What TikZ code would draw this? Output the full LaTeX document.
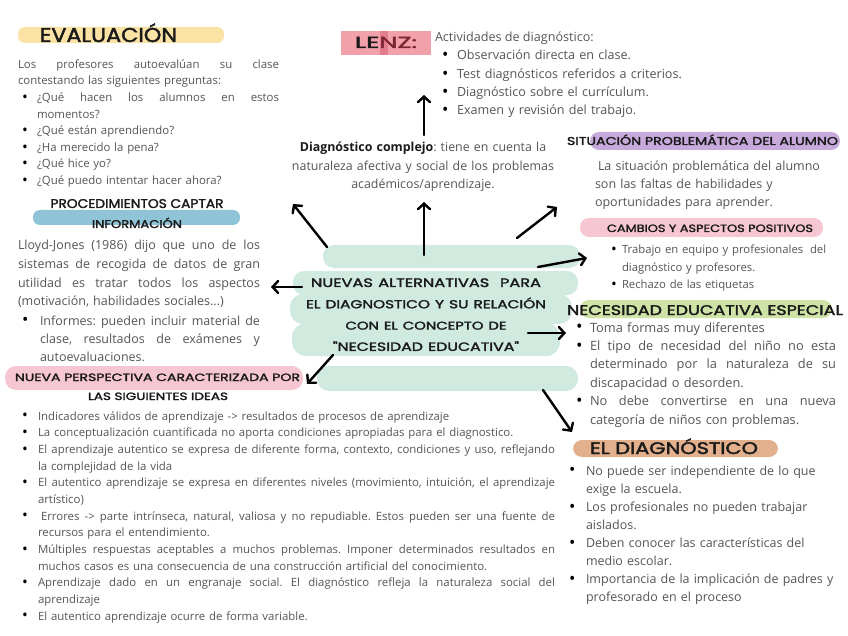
\documentclass[tikz,border=0pt]{standalone}
\usepackage{fontspec}
\usepackage{graphicx}
\setmainfont{Open Sans}
\newfontfamily\hand{Poppins}[FakeBold=2]
\usetikzlibrary{arrows.meta}
\definecolor{txt}{HTML}{555555}
\definecolor{ink}{HTML}{1A1A1A}
\definecolor{mint}{HTML}{D0EADF}
\definecolor{yel}{HTML}{FBE2A5}
\definecolor{blu}{HTML}{8FC3D6}
\definecolor{pnk}{HTML}{F7C6D3}
\definecolor{lenzp}{HTML}{F2A0AA}
\definecolor{lenzd}{HTML}{E27E8C}
\definecolor{maroon}{HTML}{7D2533}
\definecolor{purp}{HTML}{C8A9DC}
\definecolor{grn}{HTML}{CFE3A6}
\definecolor{tan}{HTML}{E2B08D}
\frenchspacing
\newcommand{\dotb}{\textcolor{black}{\raisebox{-0.12ex}{\scalebox{1.35}{\textbullet}}}}
\newcommand{\bu}[1][13pt]{\leavevmode\hbox to #1{\dotb\hss}\ignorespaces}
\newcommand{\ii}[1][13pt]{\leavevmode\hbox to #1{\hss}\ignorespaces}
\newcommand{\J}[2]{\leavevmode\hbox to #1{\spaceskip=\fontdimen2\font plus 1fil\relax #2}}
\newcommand{\hd}[3][0.8]{\resizebox{#2}{!}{\scalebox{1}[#1]{\hand #3}}}
\begin{document}
\begin{tikzpicture}[x=1pt,y=-1pt,
  body/.style={anchor=base west, inner sep=0pt, outer sep=0pt, text=txt, align=left},
  hdn/.style={anchor=base, inner sep=0pt, text=ink},
  arr/.style={line width=2.4pt, line cap=round, -{Straight Barb[length=5.5pt,width=12pt,line cap=round]}},
  brush/.style={rounded corners=7pt}]
\fill[white] (0,0) rectangle (848,636);
\useasboundingbox (0,0) rectangle (848,636);

% central green blob
\fill[mint, rounded corners=11pt] (323,245) rectangle (580,268);
\fill[mint, rounded corners=11pt] (293,271) rectangle (578,295);
\fill[mint, rounded corners=13pt] (290,294) rectangle (572,324);
\fill[mint, rounded corners=14pt] (292,323) rectangle (560,356);
\fill[mint, rounded corners=12pt] (317,366) rectangle (578,391);

% highlight brushes
\fill[yel, brush] (18,27) rectangle (224,43);
\fill[blu, brush] (33,210) rectangle (240,225);
\fill[pnk, rounded corners=11pt] (5,366) rectangle (303,390);
\fill[lenzp] (341,31) rectangle (431,55);
\fill[lenzd] (380,31) rectangle (388,55);
\fill[purp, rounded corners=9pt] (590,132) rectangle (840,150);
\fill[pnk, rounded corners=9pt] (580,218) rectangle (823,237);
\fill[grn, rounded corners=9pt] (580,300) rectangle (832,318);
\fill[tan, rounded corners=9pt] (573,440) rectangle (778,457);

% headings
\node[hdn] (hEval) at (108.5,42) {\hd[0.9]{137pt}{EVALUACIÓN}};
\node[hdn] (hProcA) at (137,208) {\hd[0.92]{173pt}{PROCEDIMIENTOS CAPTAR}};
\node[hdn] (hProcB) at (137,228) {\hd[0.86]{90pt}{INFORMACIÓN}};
\node[hdn] (hNuevaA) at (157.5,381) {\hd[0.75]{285pt}{NUEVA PERSPECTIVA CARACTERIZADA POR}};
\node[hdn] (hNuevaB) at (158,400) {\hd[0.78]{140pt}{LAS SIGUIENTES IDEAS}};
\node[hdn] (hLenz) at (386,48) {\hd[0.62]{62pt}{LE\textcolor{maroon}{NZ:}}};
\node[hdn] (hSit) at (702.5,145) {\hd[0.8]{271pt}{SITUACIÓN PROBLEMÁTICA DEL ALUMNO}};
\node[hdn] (hCamb) at (710,232) {\hd[0.82]{206pt}{CAMBIOS Y ASPECTOS POSITIVOS}};
\node[hdn] (hNec) at (705,315) {\hd[0.8]{276pt}{NECESIDAD EDUCATIVA ESPECIAL}};
\node[hdn] (hDiag) at (674,454) {\hd[0.8]{168pt}{EL DIAGNÓSTICO}};

% central title
\node[anchor=base, inner sep=0pt, text=ink, align=center, text width=280pt,
      font=\fontsize{12}{21.3}\selectfont] (title) at (426,287)
  {\hd[0.76]{230pt}{NUEVAS ALTERNATIVAS\ \ PARA}\\
   \hd[0.76]{240pt}{EL DIAGNOSTICO Y SU RELACIÓN}\\
   \hd[0.76]{161pt}{CON EL CONCEPTO DE}\\
   \hd[0.76]{186pt}{"NECESIDAD EDUCATIVA"}};

% body texts
\node[body, text width=261pt, font=\fontsize{11.4}{16.5}\selectfont] (evalP) at (18,68.5)
  {\J{261pt}{Los profesores autoevalúan su clase}\\ contestando las siguientes preguntas:};
\node[body, text width=257pt, font=\fontsize{11.4}{16.5}\selectfont] (evalB) at (22,102)
  {\J{257pt}{\bu[15pt]¿Qué hacen los alumnos en estos}\\
   \ii[15pt]momentos?\\
   \bu[15pt]¿Qué están aprendiendo?\\
   \bu[15pt]¿Ha merecido la pena?\\
   \bu[15pt]¿Qué hice yo?\\
   \bu[15pt]¿Qué puedo intentar hacer ahora?};

\node[body, text width=242pt, font=\fontsize{12.5}{18.6}\selectfont] (lloydP) at (18,250)
  {\J{242pt}{Lloyd-Jones (1986) dijo que uno de los}\\
   \J{242pt}{sistemas de recogida de datos de gran}\\
   \J{242pt}{utilidad es tratar todos los aspectos}\\
   (motivación, habilidades sociales...)};
\node[body, text width=238pt, font=\fontsize{12.5}{18.4}\selectfont] (lloydB) at (22,325)
  {\J{238pt}{\bu[18pt]Informes: pueden incluir material de}\\
   \J{238pt}{\ii[18pt]clase, resultados de exámenes y}\\
   \ii[18pt]autoevaluaciones.};

\node[body, text width=533pt, font=\fontsize{11.4}{16.67}\selectfont] (nuevaB) at (22,420)
  {\bu[16pt]Indicadores válidos de aprendizaje -> resultados de procesos de aprendizaje\\
   \bu[16pt]La conceptualización cuantificada no aporta condiciones apropiadas para el diagnostico.\\
   \J{533pt}{\bu[16pt]El aprendizaje autentico se expresa de diferente forma, contexto, condiciones y uso, reflejando}\\
   \ii[16pt]la complejidad de la vida\\
   \J{533pt}{\bu[16pt]El autentico aprendizaje se expresa en diferentes niveles (movimiento, intuición, el aprendizaje}\\
   \ii[16pt]artístico)\\
   \J{533pt}{\bu[16pt]\hspace{3pt}Errores -> parte intrínseca, natural, valiosa y no repudiable. Estos pueden ser una fuente de}\\
   \ii[16pt]recursos para el entendimiento.\\
   \J{533pt}{\bu[16pt]Múltiples respuestas aceptables a muchos problemas. Imponer determinados resultados en}\\
   \ii[16pt]muchos casos es una consecuencia de una construcción artificial del conocimiento.\\
   \J{533pt}{\bu[16pt]Aprendizaje dado en un engranaje social. El diagnóstico refleja la naturaleza social del}\\
   \ii[16pt]aprendizaje\\
   \bu[16pt]El autentico aprendizaje ocurre de forma variable.};

\node[body, font=\fontsize{12.6}{18.3}\selectfont] (lenzA) at (435,42) {Actividades de diagnóstico:};
\node[body, text width=250pt, font=\fontsize{12.6}{18.3}\selectfont] (lenzB) at (442,60)
  {\bu[15pt]Observación directa en clase.\\
   \bu[15pt]Test diagnósticos referidos a criterios.\\
   \bu[15pt]Diagnóstico sobre el currículum.\\
   \bu[15pt]Examen y revisión del trabajo.};

\node[anchor=base, inner sep=0pt, text=txt, align=center, text width=300pt,
      font=\fontsize{12.4}{18.4}\selectfont] (compl) at (423,152)
  {\textcolor{ink}{\textbf{Diagnóstico complejo}}: tiene en cuenta la\\
   naturaleza afectiva y social de los problemas\\
   académicos/aprendizaje.};

\node[body, text width=250pt, font=\fontsize{12.5}{18}\selectfont] (sitT) at (595,171)
  {\hspace*{3pt}La situación problemática del alumno\\
   son las faltas de habilidades y\\
   oportunidades para aprender.};

\node[body, text width=225pt, font=\fontsize{11.3}{17.5}\selectfont] (cambB) at (611,254)
  {\bu[11pt]Trabajo en equipo y profesionales\hspace{3pt} del\\
   \ii[11pt]diagnóstico y profesores.\\
   \bu[11pt]Rechazo de las etiquetas};

\node[body, text width=260pt, font=\fontsize{12.8}{18.4}\selectfont] (necB) at (576,332)
  {\bu[14pt]Toma formas muy diferentes\\
   \J{260pt}{\bu[14pt]El tipo de necesidad del niño no esta}\\
   \J{260pt}{\ii[14pt]determinado por la naturaleza de su}\\
   \ii[14pt]discapacidad o desorden.\\
   \J{260pt}{\bu[14pt]No debe convertirse en una nueva}\\
   \ii[14pt]categoría de niños con problemas.};

\node[body, text width=275pt, font=\fontsize{12.5}{18.1}\selectfont] (diagB) at (569,475)
  {\bu[17pt]No puede ser independiente de lo que\\
   \ii[17pt]exige la escuela.\\
   \bu[17pt]Los profesionales no pueden trabajar\\
   \ii[17pt]aislados.\\
   \bu[17pt]Deben conocer las características del\\
   \ii[17pt]medio escolar.\\
   \bu[17pt]Importancia de la implicación de padres y\\
   \ii[17pt]profesorado en el proceso};

% arrows
\coordinate (t1) at (327,247); \coordinate (h1) at (293,204);
\coordinate (t2) at (424,255); \coordinate (h2) at (424,202);
\coordinate (t3) at (517,238); \coordinate (h3) at (557,207);
\coordinate (t4) at (538,267); \coordinate (h4) at (587,258);
\coordinate (t5) at (302,287); \coordinate (h5) at (271,287);
\coordinate (t6) at (528,333); \coordinate (h6) at (566,333);
\coordinate (t7) at (333,355); \coordinate (h7) at (307,384);
\coordinate (t8) at (543,390); \coordinate (h8) at (572,432);
\coordinate (t9) at (424,135); \coordinate (h9) at (424,95);
\foreach \i in {1,...,9} { \draw[arr] (t\i) -- (h\i); }
\end{tikzpicture}
\end{document}
